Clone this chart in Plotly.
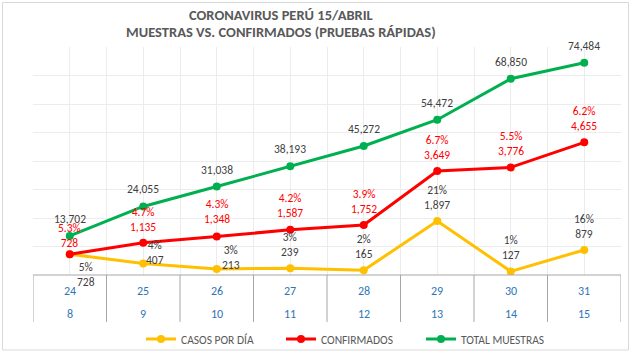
import plotly.graph_objects as go

# ---- data ----
dias_marzo = ["24", "25", "26", "27", "28", "29", "30", "31"]
dias_abril = ["8", "9", "10", "11", "12", "13", "14", "15"]
casos_por_dia = [728, 407, 213, 239, 165, 1897, 127, 879]
casos_pct = [5, 4, 3, 3, 2, 21, 1, 16]
confirmados = [728, 1135, 1348, 1587, 1752, 3649, 3776, 4655]
confirmados_pct = [5.3, 4.7, 4.3, 4.2, 3.9, 6.7, 5.5, 6.2]
total_muestras = [13702, 24055, 31038, 38193, 45272, 54472, 68850, 74484]
titulo = ["CORONAVIRUS PERÚ 15/ABRIL", "MUESTRAS VS. CONFIRMADOS (PRUEBAS RÁPIDAS)"]

# ---- styles ----
FONT = "Calibri, Carlito, Lato, sans-serif"
YEL, RED, GRN = "#FFC000", "#FF0000", "#00B050"
LBL = "#404040"
GRID = "#ECECEC"
AXC = "#A6A6A6"
BLUE = "#2E75B6"

# label offsets (px) (Excel manual positions)
yel_dx = [16, 12, 14, 0, 0, 0, 0, 0]
yel_dy = [-20, 11, 11.5, 23.5, 23.5, 23.5, 23.5, 23.5]
red_dy = [18.6, 23.5, 25, 24, 24, 24, 24, 24]

L, R, T, B = 33, 12, 47, 79
W, H = 633, 354
PH = H - T - B
PW = W - L - R


def py(px):
    """pixel row -> paper y"""
    return (H - B - px) / PH


x = list(range(len(dias_marzo)))

fig = go.Figure()
fig.add_trace(go.Scatter(
    x=x, y=casos_por_dia, name="CASOS POR DÍA", mode="lines+markers",
    line=dict(color=YEL, width=3), marker=dict(color=YEL, size=8),
    yaxis="y2"))
fig.add_trace(go.Scatter(
    x=x, y=confirmados, name="CONFIRMADOS", mode="lines+markers",
    line=dict(color=RED, width=3), marker=dict(color=RED, size=8),
    yaxis="y2"))
fig.add_trace(go.Scatter(
    x=x, y=total_muestras, name="TOTAL MUESTRAS", mode="lines+markers",
    line=dict(color=GRN, width=3), marker=dict(color=GRN, size=8),
    yaxis="y"))

LF = 11.5
ann = []
for i in x:
    ann.append(dict(x=i, y=total_muestras[i], xref="x", yref="y",
                    text=f"{total_muestras[i]:,}", showarrow=False,
                    yanchor="middle", yshift=17,
                    font=dict(family=FONT, size=LF, color=LBL)))
    ann.append(dict(x=i, y=confirmados[i], xref="x", yref="y2",
                    text=f"{confirmados_pct[i]:.1f}%<br>{confirmados[i]:,}",
                    showarrow=False, yanchor="middle", yshift=red_dy[i],
                    font=dict(family=FONT, size=LF, color=RED)))
    ann.append(dict(x=i, y=casos_por_dia[i], xref="x", yref="y2",
                    text=f"{casos_pct[i]}%<br>{casos_por_dia[i]:,}",
                    showarrow=False, yanchor="middle",
                    yshift=yel_dy[i], xshift=yel_dx[i],
                    font=dict(family=FONT, size=LF, color=LBL)))
    ann.append(dict(x=i, y=py(290.5), xref="x", yref="paper",
                    text=dias_marzo[i], showarrow=False,
                    xanchor="center", yanchor="middle",
                    font=dict(family=FONT, size=12, color=BLUE)))
    ann.append(dict(x=i, y=py(313.5), xref="x", yref="paper",
                    text=dias_abril[i], showarrow=False,
                    xanchor="center", yanchor="middle",
                    font=dict(family=FONT, size=12, color=BLUE)))

for t, yy in zip(titulo, [15, 32]):
    ann.append(dict(x=(281 - L) / PW, y=py(yy), xref="paper", yref="paper",
                    text=f"<b>{t}</b>", showarrow=False,
                    xanchor="center", yanchor="middle",
                    font=dict(family=FONT, size=14.5, color="#595959")))

shapes = []
for k in range(len(x) + 1):
    shapes.append(dict(type="line", xref="x", yref="paper",
                       x0=k - 0.5, x1=k - 0.5, y0=0, y1=py(322),
                       line=dict(color=AXC, width=1)))
shapes.append(dict(type="line", xref="paper", yref="paper", x0=0, x1=1,
                   y0=0, y1=0, line=dict(color=AXC, width=1)))
shapes.append(dict(type="rect", xref="paper", yref="paper",
                   x0=(2.5 - L) / PW, x1=(628.5 - L) / PW,
                   y0=py(350), y1=py(2.5),
                   line=dict(color="#D9D9D9", width=1), layer="below"))

fig.update_layout(
    width=W, height=H,
    margin=dict(l=L, r=R, t=T, b=B, autoexpand=False),
    paper_bgcolor="white", plot_bgcolor="white",
    font=dict(family=FONT),
    showlegend=True,
    legend=dict(orientation="h", xref="container", yref="container",
                x=141 / W, xanchor="left",
                y=(H - 339) / H, yanchor="middle",
                font=dict(family=FONT, size=11.5, color="#595959"),
                entrywidth=95, bgcolor="rgba(0,0,0,0)"),
    xaxis=dict(range=[-0.5, len(x) - 0.5], tick0=-0.5, dtick=0.5,
               showgrid=True, gridcolor=GRID, gridwidth=1,
               showticklabels=False, ticks="", zeroline=False, showline=False),
    yaxis=dict(range=[0, 80000], dtick=10000, showgrid=True, gridcolor=GRID,
               showticklabels=False, ticks="", zeroline=False),
    yaxis2=dict(range=[0, 8000], overlaying="y", side="right", showgrid=False,
                showticklabels=False, ticks="", zeroline=False),
    annotations=ann, shapes=shapes,
)

fig.write_html("out.html")
